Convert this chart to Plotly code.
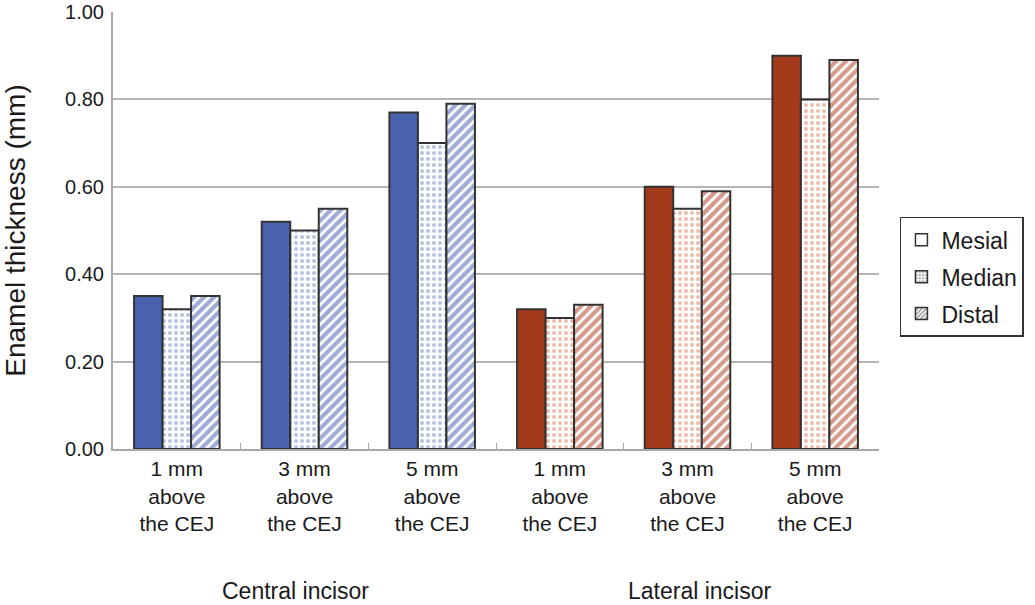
import plotly.graph_objects as go

categories = ["C1", "C3", "C5", "L1", "L3", "L5"]
tick_labels = ["1 mm<br>above<br>the CEJ", "3 mm<br>above<br>the CEJ", "5 mm<br>above<br>the CEJ",
               "1 mm<br>above<br>the CEJ", "3 mm<br>above<br>the CEJ", "5 mm<br>above<br>the CEJ"]
mesial = [0.35, 0.52, 0.77, 0.32, 0.60, 0.90]
median = [0.32, 0.50, 0.70, 0.30, 0.55, 0.80]
distal = [0.35, 0.55, 0.79, 0.33, 0.59, 0.89]
group_labels = ["Central incisor", "Lateral incisor"]

BLUE = "#4862ad"
RED = "#a43a1c"
colors = [BLUE] * 3 + [RED] * 3
dot_colors = ["#6a84c8"] * 3 + ["#d97a58"] * 3
stripe_colors = ["#3d5aab"] * 3 + ["#a8351a"] * 3

FONT = "Liberation Sans, Arial, sans-serif"
fig = go.Figure()
line = dict(color="#333333", width=2)

fig.add_trace(go.Bar(x=categories, y=mesial, name="Mesial", showlegend=False,
                     marker=dict(color=colors, line=line)))
fig.add_trace(go.Bar(x=categories, y=median, name="Median", showlegend=False,
                     marker=dict(color="white", line=line,
                                 pattern=dict(shape=".", fgcolor=dot_colors, bgcolor="white",
                                              size=6, solidity=0.35, fillmode="overlay"))))
fig.add_trace(go.Bar(x=categories, y=distal, name="Distal", showlegend=False,
                     marker=dict(color="white", line=line,
                                 pattern=dict(shape="/", fgcolor=stripe_colors, bgcolor="white",
                                              size=7, solidity=0.6, fillmode="overlay"))))

# legend-only entries on a hidden second axis pair
leg_line = dict(color="#333333", width=1.5)
fig.add_trace(go.Bar(x=[None], y=[None], name="Mesial", legendgroup="a", xaxis="x2", yaxis="y2",
                     marker=dict(color="white", line=leg_line)))
fig.add_trace(go.Bar(x=[None], y=[None], name="Median", legendgroup="b", xaxis="x2", yaxis="y2",
                     marker=dict(color="white", line=leg_line,
                                 pattern=dict(shape=".", fgcolor="#555555", bgcolor="white",
                                              size=4, solidity=0.4))))
fig.add_trace(go.Bar(x=[None], y=[None], name="Distal", legendgroup="c", xaxis="x2", yaxis="y2",
                     marker=dict(color="white", line=leg_line,
                                 pattern=dict(shape="/", fgcolor="#333333", bgcolor="white",
                                              size=4, solidity=0.5))))

fig.update_layout(
    width=1035, height=605,
    margin=dict(l=113, r=155, t=12, b=156),
    paper_bgcolor="white", plot_bgcolor="white",
    barmode="group", bargap=0.33, bargroupgap=0,
    font=dict(family=FONT, color="#1a1a1a"),
    legend=dict(x=1.026, y=0.394, xanchor="left", yanchor="middle",
                bordercolor="#333333", borderwidth=1.5,
                font=dict(size=23, family=FONT), tracegroupgap=4),
    showlegend=True,
    xaxis2=dict(overlaying="x", visible=False),
    yaxis2=dict(overlaying="y", visible=False),
)
fig.layout.xaxis.update(tickmode="array", tickvals=categories, ticktext=tick_labels,
                        tickfont=dict(size=21, family=FONT), showline=True, linecolor="#a8a8a8",
                        linewidth=2, ticks="inside", ticklen=6, tickcolor="#a8a8a8",
                        tickson="boundaries", showgrid=False, automargin=False)
fig.layout.yaxis.update(range=[0, 1.0], dtick=0.2, tickformat=".2f",
                        tickfont=dict(size=20, family=FONT), showgrid=True, gridcolor="#b5b5b5",
                        gridwidth=2, showline=True, linecolor="#a8a8a8", linewidth=2,
                        ticklabelstandoff=3, ticklabeloverflow="allow",
                        title=dict(text="Enamel thickness (mm)", font=dict(size=28, family=FONT), standoff=38),
                        ticks="", zeroline=False, automargin=False)

for label, xp in zip(group_labels, [0.2386, 0.7666]):
    fig.add_annotation(x=xp, y=-0.325, xref="paper", yref="paper", text=label, showarrow=False,
                       font=dict(size=23, family=FONT), xanchor="center", yanchor="middle")

# remove the default 8px page margin so the figure sits at the window origin
fig.write_html("out.html", config={"displayModeBar": False},
               post_script="document.body.style.margin='0px';")
